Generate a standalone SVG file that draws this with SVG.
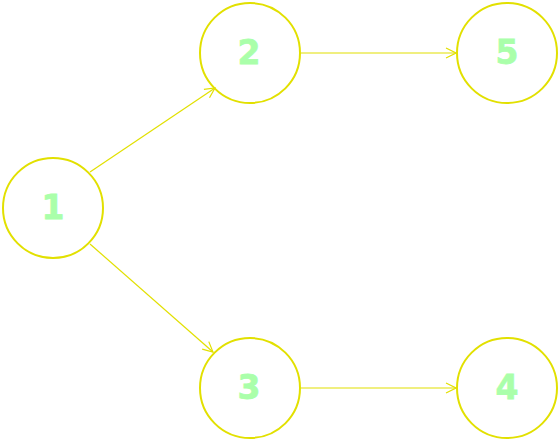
<svg xmlns="http://www.w3.org/2000/svg" width="559" height="441" viewBox="0 0 559 441">
<style>
.node circle{fill:none;stroke:#e2e000;stroke-width:2}
.node text{fill:#aaffaa;stroke:#aaffaa;stroke-width:0.8;font-family:"DejaVu Sans",sans-serif;font-weight:bold;font-size:33px;text-anchor:middle;dominant-baseline:central}
.edge{stroke:#e2e000;stroke-width:1.2;fill:none;marker-end:url(#arr)}
</style>
<defs>
<marker id="arr" viewBox="0 0 12 12" refX="11" refY="6" markerWidth="12" markerHeight="12" markerUnits="userSpaceOnUse" orient="auto">
<path d="M1,1 L11,6 L1,11" fill="none" stroke="#e2e000" stroke-width="1.2"/>
</marker>
</defs>
<g id="connectors">
<line class="edge" x1="90" y1="172" x2="215" y2="88"/>
<line class="edge" x1="90" y1="244" x2="213" y2="352"/>
<line class="edge" x1="301" y1="53" x2="456" y2="53"/>
<line class="edge" x1="301" y1="388" x2="456" y2="388"/>
</g>
<g id="node1" class="node"><circle cx="53" cy="208" r="50"/><text x="53" y="207">1</text></g>
<g id="node2" class="node"><circle cx="250" cy="53" r="50"/><text x="249" y="52">2</text></g>
<g id="node5" class="node"><circle cx="507" cy="53" r="50"/><text x="507" y="52">5</text></g>
<g id="node3" class="node"><circle cx="250" cy="388" r="50"/><text x="249" y="387">3</text></g>
<g id="node4" class="node"><circle cx="507" cy="388" r="50"/><text x="507" y="387">4</text></g>
</svg>
